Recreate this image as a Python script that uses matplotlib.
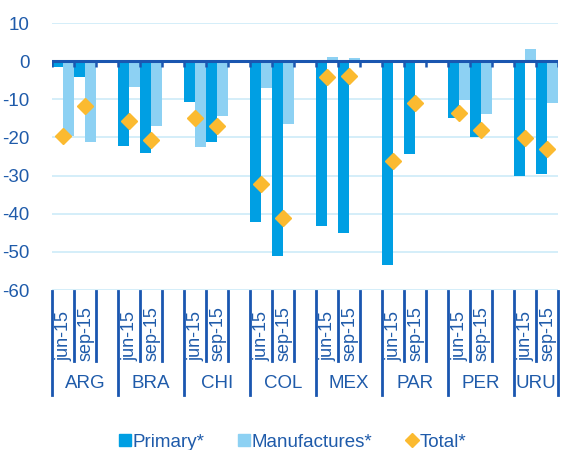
import matplotlib
matplotlib.use("Agg")
import matplotlib.pyplot as plt
from matplotlib.transforms import blended_transform_factory
from matplotlib.lines import Line2D
import numpy as np

plt.rcParams['font.family'] = ['Liberation Sans', 'DejaVu Sans']

countries = ["ARG", "BRA", "CHI", "COL", "MEX", "PAR", "PER", "URU"]
periods = ["jun-15", "sep-15"]
# values per country: [jun-15, sep-15]
primary = [[-1.5, -4.1], [-22.2, -24.1], [-10.7, -21.1], [-42.1, -51.0],
           [-43.2, -45.0], [-53.5, -24.4], [-15.0, -20.0], [-30.0, -29.5]]
manufactures = [[-19.6, -21.2], [-6.7, -17.0], [-22.4, -14.5], [-7.0, -16.6],
                [1.0, 0.7], [0.0, 0.0], [-10.1, -13.8], [3.3, -11.0]]
total = [[-19.7, -11.7], [-15.6, -20.6], [-15.0, -17.1], [-32.1, -41.0],
         [-4.2, -4.0], [-26.3, -11.0], [-13.7, -18.0], [-20.2, -23.0]]
yticks = [10, 0, -10, -20, -30, -40, -50, -60]

C_PRI = "#009FE3"
C_MAN = "#8DD1F3"
C_TOT = "#FBBA30"
C_TXT = "#1F5BAA"
C_AX = "#1A56B0"
C_GRID = "#CDEBF8"

fig = plt.figure(figsize=(5.63, 4.5), dpi=100)
ax = fig.add_axes([52/563, 1-290/450, (558-52)/563, (290-23)/450])

nslots = 3 * len(countries) - 1
xs, pv, mv, tv = [], [], [], []
for c in range(len(countries)):
    for k in range(2):
        xs.append(3*c + k)
        pv.append(primary[c][k])
        mv.append(manufactures[c][k])
        tv.append(total[c][k])
xs = np.array(xs, dtype=float)

ax.bar(xs + 0.25, pv, width=0.47, color=C_PRI, zorder=3)
ax.bar(xs + 0.75, mv, width=0.47, color=C_MAN, zorder=3)
ax.plot(xs + 0.5, tv, linestyle='none', marker='D', ms=8, color=C_TOT,
        markeredgecolor=C_TOT, zorder=5)

ax.set_xlim(0, nslots)
ax.set_ylim(-60, 10)
ax.set_yticks(yticks)
ax.set_yticklabels([str(v) for v in yticks], color=C_TXT, fontsize=13.5)
ax.tick_params(axis='y', length=0, pad=16)
ax.set_xticks([])
for s in ax.spines.values():
    s.set_visible(False)
for v in yticks:
    ax.axhline(v, color=C_GRID, lw=1.2, zorder=1)

# zero axis line with ticks
ax.axhline(0, color=C_AX, lw=2.2, zorder=6)
ax.vlines(np.arange(nslots + 1), -1.6, 0, color=C_AX, lw=1.8, zorder=6)

# multi-level category labels
tr = blended_transform_factory(ax.transData, fig.transFigure)
y_top = 1 - 291/450
y_mid = 1 - 361/450
y_bot = 1 - 395/450
for i in range(nslots + 1):
    full = (i % 3 == 0) or (i == nslots)
    ax.add_line(Line2D([i, i], [y_top, y_bot if full else y_mid], transform=tr,
                       color=C_AX, lw=2, clip_on=False))
for c, name in enumerate(countries):
    for k, p in enumerate(periods):
        ax.text(3*c + k + 0.55, 1 - 361/450, p, transform=tr, rotation=90,
                ha='center', va='bottom', color=C_TXT, fontsize=13)
    lo = 3*c
    hi = min(3*c + 3, nslots)
    ax.text((lo + hi) / 2, 1 - 383/450, name, transform=tr, ha='center',
            va='center', color=C_TXT, fontsize=13.5)

handles = [
    Line2D([], [], linestyle='none', marker='s', ms=8, color=C_PRI),
    Line2D([], [], linestyle='none', marker='s', ms=8, color=C_MAN),
    Line2D([], [], linestyle='none', marker='D', ms=7, color=C_TOT),
]
fig.legend(handles, ["Primary*", "Manufactures*", "Total*"], loc='center',
           bbox_to_anchor=(0.52, 1 - 442/450), ncol=3, frameon=False,
           handlelength=0.6, handletextpad=0.1, columnspacing=1.8,
           fontsize=13.5, labelcolor=C_TXT)

fig.savefig("out.png", dpi=100)
